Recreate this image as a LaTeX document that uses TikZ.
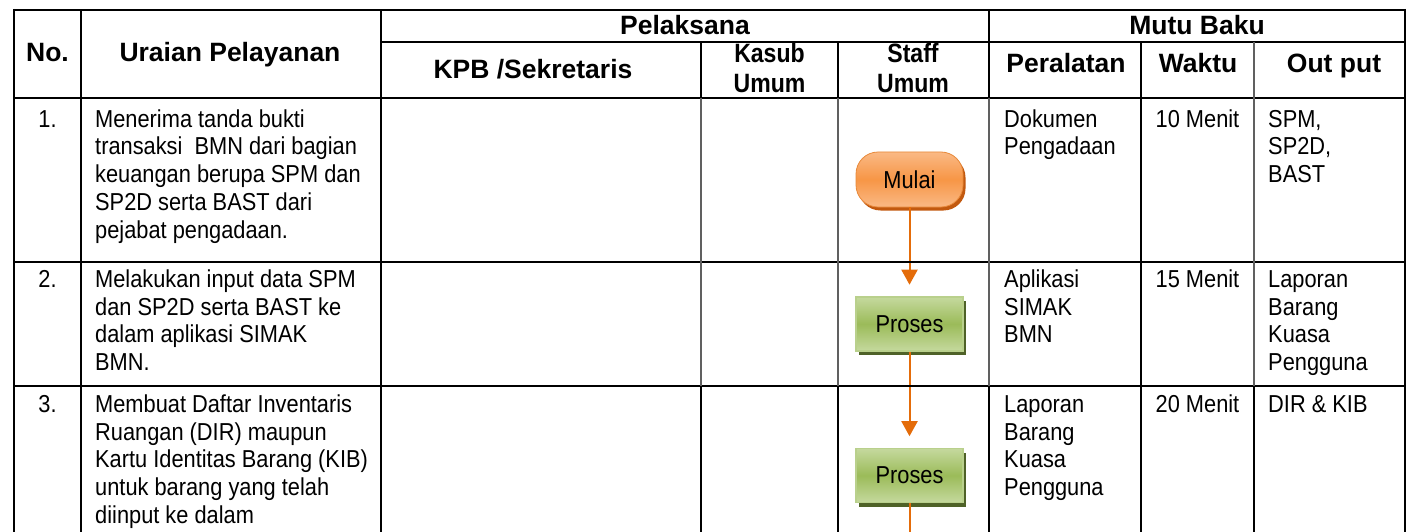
\documentclass[tikz,border=0pt]{standalone}
\usepackage{fontspec}
\setmainfont{Liberation Sans}
\newfontfamily\narrowfont{Liberation Sans}[FakeStretch=0.89]
\newfontfamily\headnarrow{Liberation Sans}[FakeStretch=0.87]
\usetikzlibrary{arrows.meta,shadows}

\definecolor{gridgray}{HTML}{606060}
\definecolor{orangelight}{HTML}{FAB985}
\definecolor{orangemid}{HTML}{F79646}
\definecolor{orangeedge}{HTML}{E8893A}
\definecolor{orangeshadow}{HTML}{C2590F}
\definecolor{arrowline}{HTML}{E46C0A}
\definecolor{greenlight}{HTML}{C5D99E}
\definecolor{greenmid}{HTML}{9BBB59}
\definecolor{greenedge}{HTML}{B9D08C}
\definecolor{greenshadow}{HTML}{4F6228}

% strut that fixes the height of the first line of a cell
\newcommand\cellstrut{\rule{0pt}{19pt}}

\tikzset{
  hline/.style={line width=2.2pt,black},
  vline/.style={line width=1.3pt,black},
  vthin/.style={line width=1.1pt,gridgray},
  vthick/.style={line width=1.6pt,black},
  headtext/.style={font=\fontsize{26.5}{29}\selectfont\bfseries,inner sep=0pt,anchor=base},
  headsmall/.style={font=\headnarrow\fontsize{26.5}{29.7}\selectfont\bfseries,inner sep=0pt,anchor=north,align=center},
  bodytext/.style={font=\narrowfont\fontsize{24.5}{27.8}\selectfont,inner sep=0pt,anchor=north west,align=left},
  bodycenter/.style={bodytext,anchor=north,align=center},
  terminal/.style={rectangle,rounded corners=22pt,minimum width=107pt,minimum height=55pt,
    inner sep=0pt,draw=orangeedge,line width=0.8pt,
    top color=orangelight,bottom color=orangelight,middle color=orangemid,
    drop shadow={shadow xshift=2.5pt,shadow yshift=-3.5pt,fill=orangeshadow,opacity=1},
    font=\narrowfont\fontsize{24.5}{27}\selectfont},
  process/.style={rectangle,minimum width=107pt,minimum height=54pt,
    inner sep=0pt,draw=greenedge,line width=1.6pt,
    top color=greenlight,bottom color=greenlight,middle color=greenmid,
    drop shadow={shadow xshift=3pt,shadow yshift=-4pt,fill=greenshadow,opacity=1},
    font=\narrowfont\fontsize{24.5}{27}\selectfont},
  flow/.style={arrowline,line width=2pt,-{Triangle[width=16pt,length=15pt]},shorten >=11.5pt},
  flowline/.style={arrowline,line width=2pt},
}

\begin{document}
\begin{tikzpicture}[x=1pt,y=-1pt]
\useasboundingbox (0,0) rectangle (1411,532);
\fill[white] (0,0) rectangle (1411,532);
\clip (0,0) rectangle (1411,532);

% flowchart in the Staff Umum column
\node[terminal] (mulai) at (909.5,179.5) {Mulai};
\node[process] (p1) at (909.5,324) {Proses};
\node[process] (p2) at (909.5,475.5) {Proses};
\coordinate (tail) at (909.5,540);
\draw[flow] (mulai) -- (p1);
\draw[flow] (p1) -- (p2);
\draw[flowline] (p2) -- (tail);

% horizontal rules
\draw[hline] (14,10) -- (1405,10);
\draw[hline] (381,42) -- (1405,42);
\draw[hline] (14,98) -- (1405,98);
\draw[hline] (14,262) -- (1405,262);
\draw[hline] (14,386) -- (1405,386);

% outer border
\draw[line width=2pt] (14,9) -- (14,540);
\draw[line width=2pt] (1405,9) -- (1405,540);

% header column rules
\foreach \x in {81,381,989} \draw[vline] (\x,10) -- (\x,98);
\foreach \x in {701,838,1141} \draw[vline] (\x,42) -- (\x,98);
\draw[vthin] (1254,42) -- (1254,98);

% rows 1 and 2
\foreach \x in {81,381,1141} \draw[vline] (\x,98) -- (\x,386);
\foreach \x in {701,838,989,1254} \draw[vthin] (\x,98) -- (\x,386);

% row 3
\foreach \x in {81,381,701,838,989,1141,1254} \draw[vthick] (\x,386) -- (\x,540);

% header texts
\node[headtext] (hno) at (47.5,61.5) {No.};
\node[headtext] (hur) at (230,62) {Uraian Pelayanan};
\node[headtext] (hpel) at (685,35) {Pelaksana};
\node[headtext] (hmutu) at (1197,35) {Mutu Baku};
\node[headtext] (hkpb) at (533,79) {KPB /Sekretaris};
\node[headsmall] (hkas) at (769.5,43.5) {\cellstrut Kasub\\Umum};
\node[headsmall] (hstaff) at (913,43.5) {\cellstrut Staff\\Umum};
\node[headtext] (hper) at (1066,73) {Peralatan};
\node[headtext] (hwak) at (1198,73) {Waktu};
\node[headtext] (hout) at (1334,73) {Out put};

% row 1
\node[bodycenter] (n1) at (47.5,108) {\cellstrut 1.};
\node[bodytext] (u1) at (95,108) {\cellstrut Menerima tanda bukti\\transaksi\ \ BMN dari bagian\\keuangan berupa SPM dan\\SP2D serta BAST dari\\pejabat pengadaan.};
\node[bodytext] (a1) at (1004,108) {\cellstrut Dokumen\\Pengadaan};
\node[bodycenter] (w1) at (1197.5,108) {\cellstrut 10 Menit};
\node[bodytext] (o1) at (1268,108) {\cellstrut SPM,\\SP2D,\\BAST};

% row 2
\node[bodycenter] (n2) at (47.5,268) {\cellstrut 2.};
\node[bodytext] (u2) at (95,268) {\cellstrut Melakukan input data SPM\\dan SP2D serta BAST ke\\dalam aplikasi SIMAK\\BMN.};
\node[bodytext] (a2) at (1004,268) {\cellstrut Aplikasi\\SIMAK\\BMN};
\node[bodycenter] (w2) at (1197.5,268) {\cellstrut 15 Menit};
\node[bodytext] (o2) at (1268,268) {\cellstrut Laporan\\Barang\\Kuasa\\Pengguna};

% row 3
\node[bodycenter] (n3) at (47.5,393) {\cellstrut 3.};
\node[bodytext] (u3) at (95,393) {\cellstrut Membuat Daftar Inventaris\\Ruangan (DIR) maupun\\Kartu Identitas Barang (KIB)\\untuk barang yang telah\\diinput ke dalam};
\node[bodytext] (a3) at (1004,393) {\cellstrut Laporan\\Barang\\Kuasa\\Pengguna};
\node[bodycenter] (w3) at (1197.5,393) {\cellstrut 20 Menit};
\node[bodytext] (o3) at (1268,393) {\cellstrut DIR \& KIB};
\end{tikzpicture}
\end{document}
